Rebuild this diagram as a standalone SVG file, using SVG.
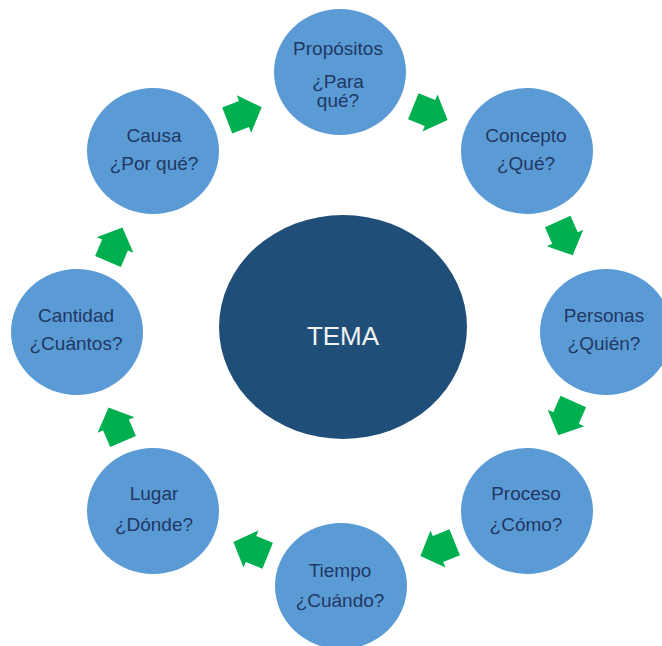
<svg xmlns="http://www.w3.org/2000/svg" width="662" height="646" viewBox="0 0 662 646">
<style>
.c{fill:#5B9BD5;}
.t{font-family:"Liberation Sans",Arial,sans-serif;font-size:19px;fill:#1F3864;text-anchor:middle;}
.tm{font-family:"Liberation Sans",Arial,sans-serif;font-size:26px;fill:#F2F2F2;text-anchor:middle;}
.a{fill:#00B050;}
</style>
<defs>
<polygon id="arr" points="-18,-14 0,-14 0,-20 19,0 0,20 0,14 -18,14"/>
</defs>
<rect width="662" height="646" fill="#FFFFFF"/>
<g id="connectors">
<use href="#arr" class="a" transform="translate(244,114) rotate(-21)"/>
<use href="#arr" class="a" transform="translate(430,113) rotate(22)"/>
<use href="#arr" class="a" transform="translate(565,238) rotate(66)"/>
<use href="#arr" class="a" transform="translate(566,418) rotate(114)"/>
<use href="#arr" class="a" transform="translate(438,549) rotate(158)"/>
<use href="#arr" class="a" transform="translate(251,549) rotate(-158)"/>
<use href="#arr" class="a" transform="translate(116,425) rotate(-113)"/>
<use href="#arr" class="a" transform="translate(115,245) rotate(-67)"/>
</g>
<g id="tema">
<ellipse cx="343" cy="327" rx="124" ry="112" fill="#1F4E79"/>
<text class="tm" x="343" y="345">TEMA</text>
</g>
<g id="propositos">
<ellipse class="c" cx="340" cy="72" rx="66" ry="63"/>
<text class="t" x="338" y="55">Propósitos</text>
<text class="t" x="338" y="88">¿Para</text>
<text class="t" x="338" y="107">qué?</text>
</g>
<g id="concepto">
<ellipse class="c" cx="527" cy="151" rx="66" ry="63"/>
<text class="t" x="526" y="142">Concepto</text>
<text class="t" x="526" y="170">¿Qué?</text>
</g>
<g id="personas">
<ellipse class="c" cx="606" cy="332" rx="66" ry="63"/>
<text class="t" x="604" y="322">Personas</text>
<text class="t" x="604" y="350">¿Quién?</text>
</g>
<g id="proceso">
<ellipse class="c" cx="527" cy="511" rx="66" ry="63"/>
<text class="t" x="526" y="500">Proceso</text>
<text class="t" x="526" y="531">¿Cómo?</text>
</g>
<g id="tiempo">
<ellipse class="c" cx="341" cy="586" rx="66" ry="63"/>
<text class="t" x="340" y="577">Tiempo</text>
<text class="t" x="340" y="607">¿Cuándo?</text>
</g>
<g id="lugar">
<ellipse class="c" cx="153" cy="511" rx="66" ry="63"/>
<text class="t" x="154" y="500">Lugar</text>
<text class="t" x="154" y="531">¿Dónde?</text>
</g>
<g id="cantidad">
<ellipse class="c" cx="77" cy="332" rx="66" ry="63"/>
<text class="t" x="76" y="322">Cantidad</text>
<text class="t" x="76" y="350">¿Cuántos?</text>
</g>
<g id="causa">
<ellipse class="c" cx="153" cy="151" rx="66" ry="63"/>
<text class="t" x="154" y="142">Causa</text>
<text class="t" x="154" y="170">¿Por qué?</text>
</g>
</svg>
